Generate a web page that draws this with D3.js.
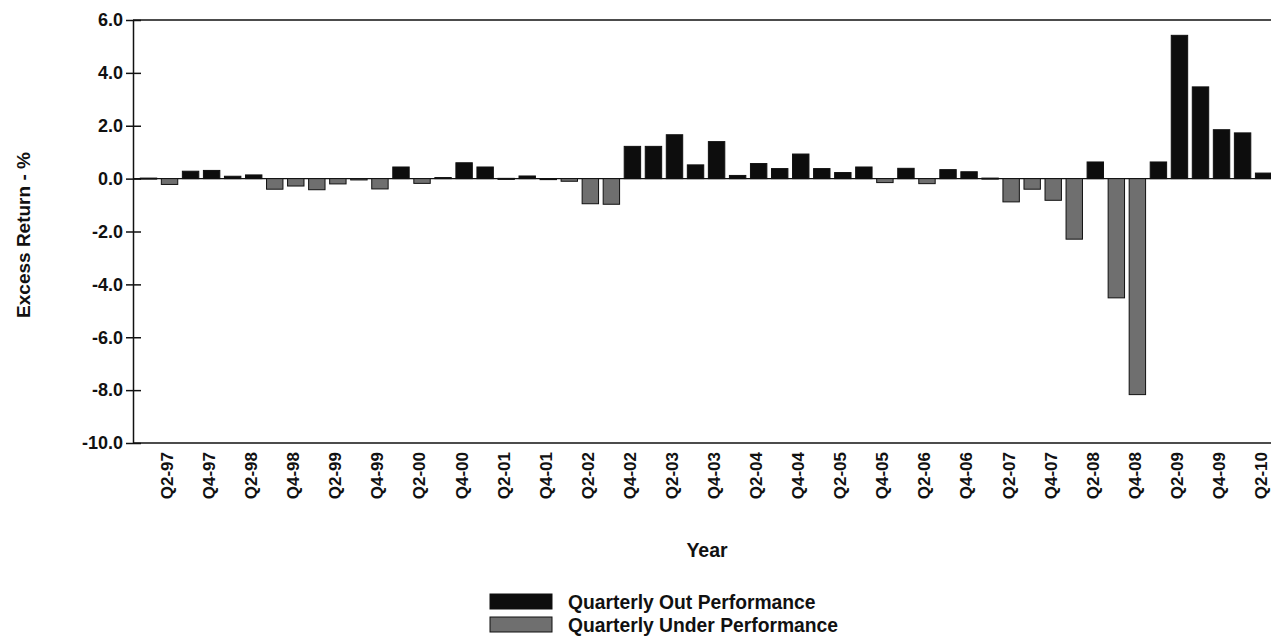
<!DOCTYPE html>
<html>
<head>
<meta charset="utf-8">
<script src="https://cdn.jsdelivr.net/npm/d3@7/dist/d3.min.js"></script>
<style>
  html, body { margin: 0; padding: 0; background: #fff; }
  svg { display: block; }
  text { font-family: "Liberation Sans", Arial, sans-serif; font-weight: bold; fill: #111; }
</style>
</head>
<body>
<svg id="chart" width="1271" height="640"></svg>
<script>
// ---- data ----
const quarters = [
  "Q1-97","Q2-97","Q3-97","Q4-97","Q1-98","Q2-98","Q3-98","Q4-98",
  "Q1-99","Q2-99","Q3-99","Q4-99","Q1-00","Q2-00","Q3-00","Q4-00",
  "Q1-01","Q2-01","Q3-01","Q4-01","Q1-02","Q2-02","Q3-02","Q4-02",
  "Q1-03","Q2-03","Q3-03","Q4-03","Q1-04","Q2-04","Q3-04","Q4-04",
  "Q1-05","Q2-05","Q3-05","Q4-05","Q1-06","Q2-06","Q3-06","Q4-06",
  "Q1-07","Q2-07","Q3-07","Q4-07","Q1-08","Q2-08","Q3-08","Q4-08",
  "Q1-09","Q2-09","Q3-09","Q4-09","Q1-10","Q2-10"
];
const excessReturn = [
  0.02,-0.22, 0.28, 0.31, 0.09, 0.14,-0.40,-0.28,
 -0.42,-0.20,-0.05,-0.39, 0.44,-0.18, 0.04, 0.60,
  0.44, 0.01, 0.10, 0.00,-0.10,-0.95,-0.97, 1.22,
  1.22, 1.66, 0.52, 1.40, 0.12, 0.57, 0.38, 0.93,
  0.38, 0.23, 0.44,-0.15, 0.39,-0.19, 0.34, 0.26,
  0.02,-0.88,-0.40,-0.82,-2.29, 0.63,-4.51,-8.17,
  0.63, 5.42, 3.47, 1.85, 1.73, 0.21
];
const xTickLabels = quarters.filter((q, i) => i % 2 === 1);
const yTickValues = [-10, -8, -6, -4, -2, 0, 2, 4, 6];
const legendLabels = ["Quarterly Out Performance", "Quarterly Under Performance"];

// ---- layout ----
const svg = d3.select("#chart");
const axisX = 133, plotTop = 20, plotBottom = 443, rightEdge = 1271;
const step = 21.04, firstCenter = 148.5;
const x0 = firstCenter - step / 2;
const x = d3.scaleBand()
  .domain(quarters)
  .range([x0, x0 + step * quarters.length])
  .paddingInner(0.22)
  .paddingOuter(0.11);
const y = d3.scaleLinear().domain([-10, 6]).range([plotBottom, plotTop]);

const outColor = "#0d0d0d", underColor = "#6f6f6f";

// frame lines
svg.append("line").attr("x1", axisX).attr("x2", rightEdge).attr("y1", plotTop).attr("y2", plotTop)
  .attr("stroke", "#111").attr("stroke-width", 1.5);

// zero line
svg.append("line").attr("x1", axisX).attr("x2", rightEdge).attr("y1", y(0)).attr("y2", y(0))
  .attr("stroke", "#111").attr("stroke-width", 1.2);

// bars
const data = quarters.map((q, i) => ({ q, v: excessReturn[i] }));
svg.append("g").selectAll("rect").data(data).join("rect")
  .attr("x", d => x(d.q))
  .attr("width", x.bandwidth())
  .attr("y", d => Math.min(y(d.v), y(0)))
  .attr("height", d => Math.max(1, Math.abs(y(d.v) - y(0))))
  .attr("fill", d => d.v >= 0 ? outColor : underColor)
  .attr("stroke", "#111")
  .attr("stroke-width", 1);

// y axis
const yAxis = svg.append("g").attr("transform", `translate(${axisX},0)`)
  .call(d3.axisLeft(y).tickValues(yTickValues).tickFormat(d => d.toFixed(1)).tickSize(7).tickSizeOuter(0));
yAxis.select(".domain").attr("stroke", "#111").attr("stroke-width", 1.5);
yAxis.selectAll(".tick line").attr("x1", 8).attr("x2", -7).attr("stroke", "#111").attr("stroke-width", 1.5);
yAxis.selectAll(".tick text").attr("x", -10).attr("font-size", 18)
  .style("font-family", '"Liberation Sans", Arial, sans-serif').style("font-weight", "bold").attr("fill", "#111");

// x axis
const xAxis = svg.append("g").attr("transform", `translate(0,${plotBottom})`)
  .call(d3.axisBottom(x).tickValues(xTickLabels).tickSize(0));
xAxis.select(".domain").remove();
xAxis.selectAll(".tick text")
  .attr("transform", "rotate(-90)")
  .attr("x", -9).attr("y", 0).attr("dy", "0.2em")
  .attr("text-anchor", "end")
  .attr("font-size", 17)
  .style("font-family", '"Liberation Sans", Arial, sans-serif').style("font-weight", "bold").attr("fill", "#111");
svg.append("line").attr("x1", axisX).attr("x2", rightEdge).attr("y1", plotBottom).attr("y2", plotBottom)
  .attr("stroke", "#111").attr("stroke-width", 1.5);

// axis titles
svg.append("text").attr("transform", "translate(30,235) rotate(-90)")
  .attr("text-anchor", "middle").attr("font-size", 19).text("Excess Return - %");
svg.append("text").attr("x", 707).attr("y", 557)
  .attr("text-anchor", "middle").attr("font-size", 19.5).text("Year");

// legend
const legend = svg.append("g");
const legendColors = [outColor, underColor];
legendLabels.forEach((label, i) => {
  const yy = 594 + i * 23;
  legend.append("rect").attr("x", 490).attr("y", yy).attr("width", 62).attr("height", 15)
    .attr("fill", legendColors[i]).attr("stroke", "#111").attr("stroke-width", 1);
  legend.append("text").attr("x", 568).attr("y", yy + 15).attr("font-size", 19.3).text(label);
});
</script>
</body>
</html>
